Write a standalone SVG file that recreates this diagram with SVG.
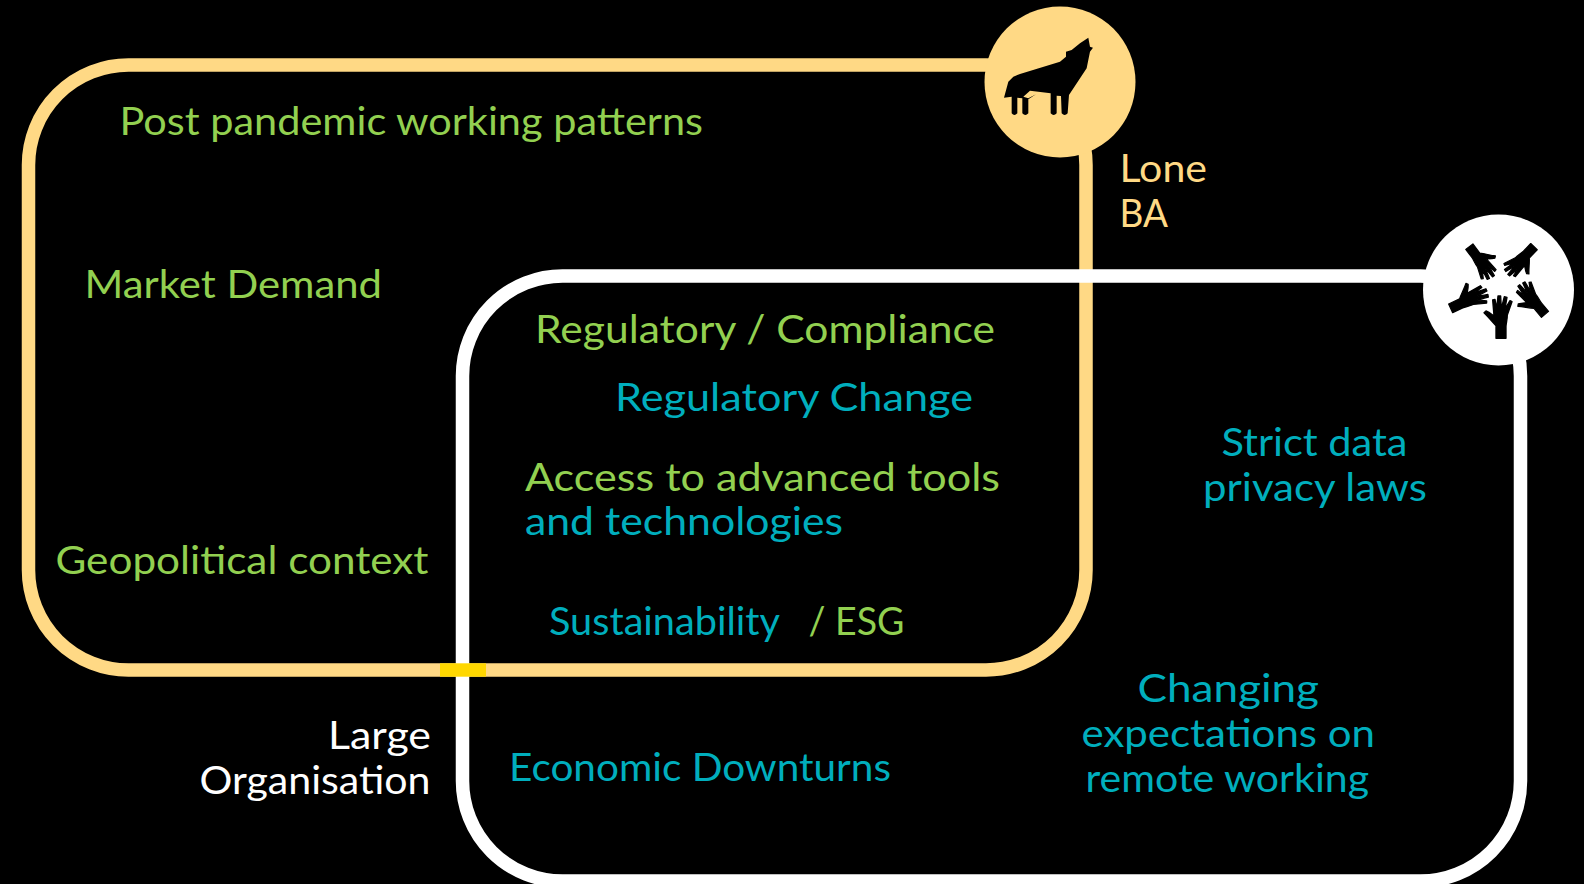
<svg xmlns="http://www.w3.org/2000/svg" width="1584" height="884" viewBox="0 0 1584 884">
<style>
text{font-family:"Lato","Open Sans","Liberation Sans",sans-serif;font-size:38px;font-weight:400}
.g{fill:#92d050}.t{fill:#00aebd}.y{fill:#ffd985}.w{fill:#fff}
.f{fill:none;stroke-width:13.5}
</style>
<defs>
<path id="hand" transform="translate(-273 -400)" d="M258 400L258 362C245 350 235 335 222 323L228 318C238 322 245 328 252 333L248 285L255 283L260 310L264 273L272 273L274 310L283 275L291 277L285 312L300 287L306 290L292 330C292 345 288 355 288 365L288 400Z"/>
</defs>
<rect width="1584" height="884" fill="#000"/>
<g id="connectors">
<rect id="lone-frame" class="f" x="28.500" y="65" width="1057.500" height="605" rx="100" stroke="#ffd985"/>
<rect id="org-frame" class="f" x="462.500" y="276" width="1058" height="605" rx="100" stroke="#fff"/>
<rect x="440" y="663.300" width="46" height="13.400" fill="#ffd700"/>
</g>
<g id="lone-ba">
<circle cx="1060" cy="82" r="75.500" fill="#ffd985"/>
<path transform="translate(960 0) scale(.3333)" fill="#000" d="M132 293L145 245L160 230L180 222L300 185L318 170L318 155L335 150L360 130L385 113L390 140L399 143L390 155L380 205L327 285L323 340Q314 350 305 340L303 288L290 287L290 340Q281 350 272 340L272 280L210 272L190 290L205 295L228 283L205 298L205 340Q196 350 187 340L187 295L172 293L172 340Q163 350 155 340L155 290Z"/>
<text class="y" x="1119.500" y="181.500" textLength="87.500" lengthAdjust="spacingAndGlyphs">Lone</text>
<text class="y" x="1119.500" y="226.500" textLength="48.500" lengthAdjust="spacingAndGlyphs">BA</text>
</g>
<g id="large-organisation">
<circle cx="1498.500" cy="290" r="75.500" fill="#fff"/>
<g transform="translate(1410 205) scale(.3333)" fill="#000" stroke="#000" stroke-width="4" stroke-linejoin="round">
<use href="#hand" transform="translate(273 400)"/>
<use href="#hand" transform="translate(122 310) rotate(65) scale(.95)"/>
<use href="#hand" transform="translate(178 125) rotate(143) scale(.9)"/>
<use href="#hand" transform="translate(372 125) rotate(-136) scale(.9)"/>
<use href="#hand" transform="translate(405 328) rotate(-40) scale(.92)"/>
</g>
<text class="w" x="328" y="748.500" textLength="103" lengthAdjust="spacingAndGlyphs">Large</text>
<text class="w" x="199.500" y="793.500" textLength="231" lengthAdjust="spacingAndGlyphs">Organisation</text>
</g>
<g id="labels">
<text class="g" x="119.500" y="134.800" textLength="583.500" lengthAdjust="spacingAndGlyphs">Post pandemic working patterns</text>
<text class="g" x="84.500" y="297.800" textLength="297.500" lengthAdjust="spacingAndGlyphs">Market Demand</text>
<text class="g" x="55.500" y="573.800" textLength="373" lengthAdjust="spacingAndGlyphs">Geopolitical context</text>
<text class="g" x="535" y="342.800" textLength="460" lengthAdjust="spacingAndGlyphs">Regulatory / Compliance</text>
<text class="t" x="615" y="410.800" textLength="358" lengthAdjust="spacingAndGlyphs">Regulatory Change</text>
<text class="g" x="525" y="490.800" textLength="475" lengthAdjust="spacingAndGlyphs">Access to advanced tools</text>
<text class="t" x="525" y="534.800" textLength="318" lengthAdjust="spacingAndGlyphs">and technologies</text>
<text class="t" x="549" y="634.800" textLength="231" lengthAdjust="spacingAndGlyphs">Sustainability</text>
<text class="g" x="808.500" y="634.800" textLength="96" lengthAdjust="spacingAndGlyphs">/ ESG</text>
<text class="t" x="509" y="780.800" textLength="382" lengthAdjust="spacingAndGlyphs">Economic Downturns</text>
<text class="t" x="1221.500" y="455.500" textLength="186" lengthAdjust="spacingAndGlyphs">Strict data</text>
<text class="t" x="1203" y="500.500" textLength="224" lengthAdjust="spacingAndGlyphs">privacy laws</text>
<text class="t" x="1137.500" y="701.500" textLength="181.500" lengthAdjust="spacingAndGlyphs">Changing</text>
<text class="t" x="1081.500" y="746.500" textLength="293.500" lengthAdjust="spacingAndGlyphs">expectations on</text>
<text class="t" x="1085.500" y="791.500" textLength="283.500" lengthAdjust="spacingAndGlyphs">remote working</text>
</g>
</svg>
